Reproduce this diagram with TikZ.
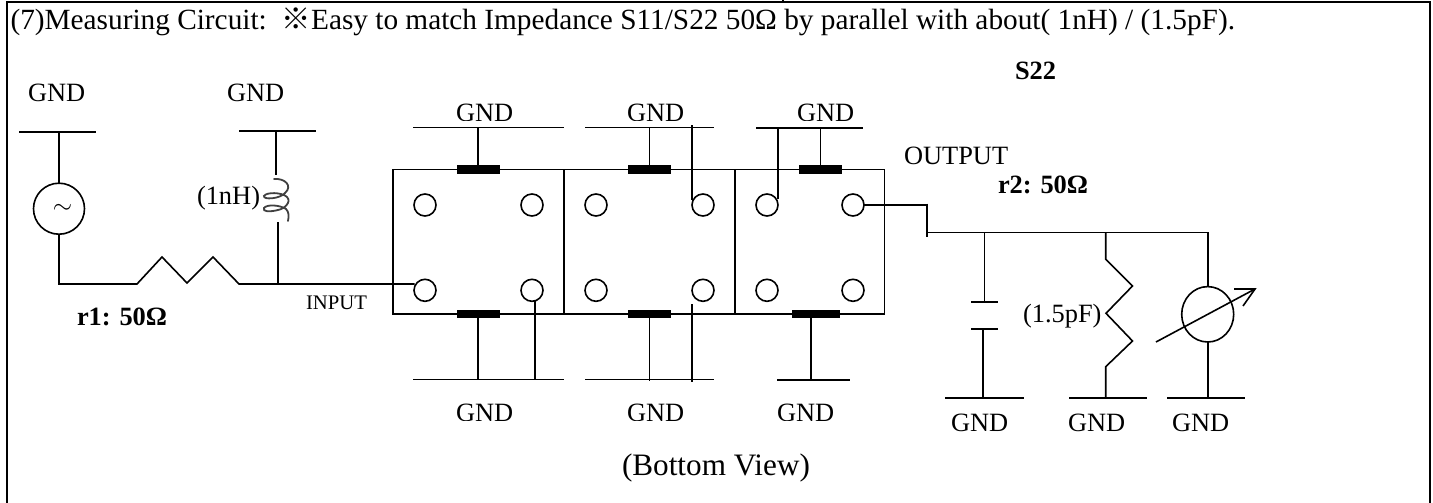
\documentclass[tikz,border=0pt]{standalone}
\usepackage{fontspec}
\usetikzlibrary{shapes.geometric}
\setmainfont{Liberation Serif}
\newfontfamily\cjkfont{Noto Sans CJK JP}
\tikzset{
  x=1pt,y=-1pt,
  wire/.style={line width=1.6pt,draw=black},
  frameline/.style={line width=2.4pt,draw=black},
  lbl/.style={inner sep=0pt,outer sep=0pt,anchor=base west,font=\fontsize{26.4}{30}\selectfont},
  boldlbl/.style={lbl,font=\fontsize{26.4}{30}\selectfont\bfseries},
  port/.style={circle,draw=black,line width=1.6pt,minimum size=22pt,inner sep=0pt,outer sep=0pt},
  pad/.style={fill=black,inner sep=0pt,outer sep=0pt,minimum width=43pt,minimum height=8.5pt},
}
\begin{document}
\begin{tikzpicture}
\useasboundingbox (0,0) rectangle (1433,503);
% frame
\coordinate (tl) at (7,2); \coordinate (tr) at (1430,2);
\coordinate (bl) at (7,503); \coordinate (br) at (1430,503);
\draw[frameline] (bl) -- (tl) -- (tr) -- (br);
\coordinate (tk1) at (783,0); \coordinate (tk2) at (783,2);
\draw[line width=1.3pt] (tk1) -- (tk2);
% header
\node[lbl,font=\fontsize{29.3}{32}\selectfont] (head) at (10.5,30) {(7)Measuring Circuit:\hspace{15pt}{\cjkfont ※}Easy to match Impedance S11/S22 50Ω by parallel with about( 1nH) / (1.5pF).};
% source branch
\node[lbl] (g1) at (28,102) {GND};
\coordinate (g1a) at (19,131.7); \coordinate (g1b) at (96,131.7); \coordinate (g1c) at (59,131.7);
\draw[wire] (g1a) -- (g1b);
\node[circle,draw=black,line width=1.6pt,minimum size=51pt,inner sep=0pt,outer sep=0pt] (src) at (59,208.7) {};
\node[inner sep=0pt,font=\fontsize{40}{40}\selectfont] (til) at (62.5,209) {$\sim$};
\draw[wire] (g1c) -- (src.north);
\coordinate (c1) at (59,284);
\coordinate (r1a) at (137,284); \coordinate (r1b) at (162,257); \coordinate (r1c) at (187,283);
\coordinate (r1d) at (213,257); \coordinate (r1e) at (239,284);
\coordinate (j1) at (278,284);
\node[port] (p11) at (425,290.3) {};
\coordinate (p11w) at (414.5,284);
\draw[wire] (src.south) -- (c1) -- (r1a) -- (r1b) -- (r1c) -- (r1d) -- (r1e) -- (j1) -- (p11w);
\node[boldlbl] (r1) at (77,325) {r1: 50Ω};
\node[lbl,font=\fontsize{20.7}{24}\selectfont] (inp) at (306,309) {INPUT};
% inductor
\node[lbl] (g2) at (227,102) {GND};
\coordinate (g2a) at (239,130.7); \coordinate (g2b) at (316,130.7); \coordinate (g2c) at (276,130.7);
\coordinate (l1t) at (276,175); \coordinate (l1b) at (278,222);
\draw[wire] (g2a) -- (g2b);
\draw[wire] (g2c) -- (l1t);
\draw[wire] (l1b) -- (j1);
\draw[line width=1.8pt,draw=black!75,line cap=round]
  (274,179) .. controls (285,178) and (293,186) .. (285,193)
  .. controls (280,199) and (263,200) .. (264,196)
  .. controls (266,192) and (282,192) .. (287,197)
  .. controls (292,202) and (284,209) .. (278,210)
  .. controls (270,212) and (262,212) .. (264,208)
  .. controls (267,204) and (280,205) .. (286,209)
  .. controls (289,212) and (289,216) .. (288,221);
\node[lbl] (lnh) at (197,204.5) {(1nH)};
% device
\coordinate (bx1t) at (393,169.3); \coordinate (bx2t) at (564,169.3); \coordinate (bx3t) at (735,169.3); \coordinate (bx4t) at (884.3,169.3);
\coordinate (bx1b) at (393,314); \coordinate (bx2b) at (564,314); \coordinate (bx3b) at (735,314); \coordinate (bx4b) at (884.3,314);
\draw[wire] (bx1b) -- (bx1t) -- (bx4t) -- (bx4b) -- cycle;
\draw[wire] (bx2t) -- (bx2b);
\draw[wire] (bx3t) -- (bx3b);
\foreach \n/\px/\py in {p12/532/290.3,p13/425/205,p14/532/205,p21/596/290.3,p22/703/290.3,p23/596/205,p24/703/205,p31/767/290.3,p32/853/290.3,p33/767/205,p34/853/205}
  \node[port] (\n) at (\px,\py) {};
% pads
\node[pad] (t1) at (478,169.3) {};
\node[pad] (t2) at (649.5,169.3) {};
\node[pad] (t3) at (820.5,169.5) {};
\node[pad] (b1) at (478,314) {};
\node[pad] (b2) at (649.5,314) {};
\node[pad,minimum width=48pt] (b3) at (816,314) {};
% top rails
\coordinate (ta1) at (413,127.3); \coordinate (tb1) at (564,127.3); \coordinate (tv1) at (478,127.3);
\coordinate (ta2) at (585,127.3); \coordinate (tb2) at (714,127.3); \coordinate (tv2) at (649.5,127.3);
\coordinate (ta3) at (756,128); \coordinate (tb3) at (863,128); \coordinate (tv3) at (820.5,128);
\coordinate (te2) at (692,125); \coordinate (te2b) at (692,200);
\coordinate (te3) at (778,128); \coordinate (te3b) at (778,199);
\draw[wire] (ta1) -- (tb1);
\draw[wire] (ta2) -- (tb2);
\draw[wire] (ta3) -- (tb3);
\draw[wire] (tv1) -- (t1);
\draw[wire] (tv2) -- (t2);
\draw[wire] (tv3) -- (t3);
\draw[wire] (te2) -- (te2b);
\draw[wire] (te3) -- (te3b);
% bottom rails
\coordinate (ba1) at (413,379.3); \coordinate (bb1) at (564,379.3); \coordinate (bv1) at (478,379.3);
\coordinate (ba2) at (585,379.3); \coordinate (bb2) at (714,379.3); \coordinate (bv2) at (649.5,381);
\coordinate (ba3) at (777,380); \coordinate (bb3) at (850,380); \coordinate (bv3) at (811,380);
\coordinate (be1) at (535,301); \coordinate (be1b) at (535,380);
\coordinate (be2) at (692,304); \coordinate (be2b) at (692,382);
\coordinate (b3v) at (811,318);
\draw[wire] (ba1) -- (bb1);
\draw[wire] (ba2) -- (bb2);
\draw[wire] (ba3) -- (bb3);
\draw[wire] (b1) -- (bv1);
\draw[wire] (b2) -- (bv2);
\draw[wire] (b3v) -- (bv3);
\draw[wire] (be1) -- (be1b);
\draw[wire] (be2) -- (be2b);
% clipped GND labels
\begin{scope}
\clip (440,95) rectangle (870,120.8);
\node[lbl] (gt1) at (456,121.8) {GND};
\node[lbl] (gt2) at (627,121.8) {GND};
\node[lbl] (gt3) at (797,121.8) {GND};
\end{scope}
\begin{scope}
\clip (440,395) rectangle (870,420);
\node[lbl] (gb1) at (456,421.5) {GND};
\node[lbl] (gb2) at (627,421.5) {GND};
\node[lbl] (gb3) at (777,421.5) {GND};
\end{scope}
% output
\node[lbl] (s22) at (1015,80) {\bfseries S22};
\node[lbl] (out) at (904,164) {OUTPUT};
\node[boldlbl] (r2) at (998,193) {r2: 50Ω};
\coordinate (o1) at (927,205); \coordinate (o1t) at (927,203.5); \coordinate (o1b) at (927,237);
\coordinate (bus0) at (927,232.3); \coordinate (busc) at (984.6,232.3); \coordinate (busr) at (1105.7,232.3); \coordinate (busm) at (1207.7,232.3);
\draw[wire] (p34) -- (o1);
\draw[wire] (o1t) -- (o1b);
\draw[wire] (bus0) -- (busm);
% capacitor
\coordinate (cp1) at (984.6,302); \coordinate (cp1a) at (971,302); \coordinate (cp1b) at (998,302);
\coordinate (cp2) at (983,329); \coordinate (cp2a) at (971,329); \coordinate (cp2b) at (998,329);
\coordinate (cg) at (983,397.7); \coordinate (cga) at (945,397.7); \coordinate (cgb) at (1023.6,397.7);
\draw[wire] (busc) -- (cp1);
\draw[wire] (cp1a) -- (cp1b);
\draw[wire] (cp2a) -- (cp2b);
\draw[wire] (cp2) -- (cg);
\draw[wire] (cga) -- (cgb);
\node[lbl] (gc) at (951,431) {GND};
% shunt
\coordinate (z0) at (1105.7,259.3); \coordinate (z1) at (1132.5,286); \coordinate (z2) at (1106,313.3);
\coordinate (z3) at (1132.5,341); \coordinate (z4) at (1105.7,366.7); \coordinate (z5) at (1105.7,397.7);
\coordinate (zga) at (1069,397.7); \coordinate (zgb) at (1147,397.7);
\draw[wire] (busr) -- (z0) -- (z1) -- (z2) -- (z3) -- (z4) -- (z5);
\draw[wire] (zga) -- (zgb);
\node[lbl] (gz) at (1068,431) {GND};
\node[lbl] (pf) at (1023,322.7) {(1.5pF)};
% meter
\node[ellipse,draw=black,line width=1.6pt,minimum width=52pt,minimum height=55.4pt,inner sep=0pt,outer sep=0pt] (met) at (1207.7,314.3) {};
\coordinate (mg) at (1207.7,397.7); \coordinate (mga) at (1167,397.7); \coordinate (mgb) at (1245,397.7);
\draw[wire] (busm) -- (met.north);
\draw[wire] (met.south) -- (mg);
\draw[wire] (mga) -- (mgb);
\node[lbl] (gm) at (1172,431) {GND};
\coordinate (ma) at (1156,342); \coordinate (mt) at (1255,289); \coordinate (mh1) at (1234,289); \coordinate (mh2) at (1243,306);
\draw[wire] (ma) -- (mt);
\draw[wire] (mh1) -- (mt) -- (mh2);
% caption
\node[lbl,font=\fontsize{31.2}{34}\selectfont] (cap) at (622,475) {(Bottom View)};
\end{tikzpicture}
\end{document}
